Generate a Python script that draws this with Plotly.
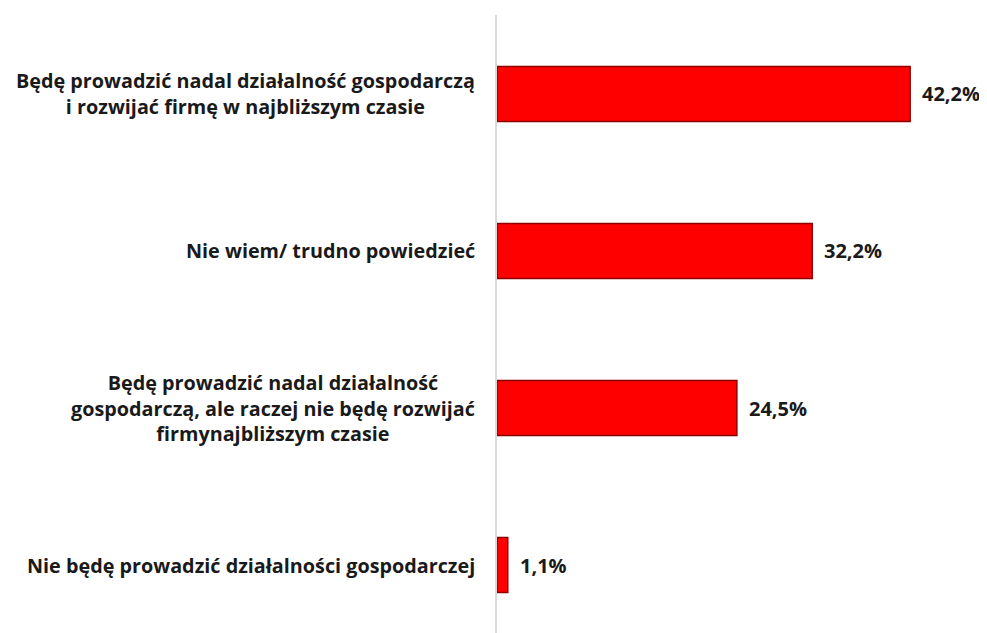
import plotly.graph_objects as go

categories = [
    "Będę prowadzić nadal działalność gospodarczą<br>i rozwijać firmę w najbliższym czasie",
    "Nie wiem/ trudno powiedzieć",
    "Będę prowadzić nadal działalność<br>gospodarczą, ale raczej nie będę rozwijać<br>firmynajbliższym czasie",
    "Nie będę prowadzić działalności gospodarczej",
]
values = [42.2, 32.2, 24.5, 1.1]
value_labels = ["42,2%", "32,2%", "24,5%", "1,1%"]

FONT = "Open Sans"
TXT = "#1a1a1a"

fig = go.Figure()
fig.add_trace(go.Bar(
    x=values,
    y=list(range(len(categories))),
    orientation="h",
    width=0.35,
    marker=dict(color="#FF0000", line=dict(color="#8E0000", width=1.5)),
    hoverinfo="skip",
))

annotations = []
for i, (cat, v, lab) in enumerate(zip(categories, values, value_labels)):
    annotations.append(dict(
        xref="paper", x=0, yref="y", y=i, text=cat, showarrow=False,
        xanchor="right", yanchor="middle", align="center", xshift=-20,
        font=dict(family=FONT, size=19.8, color=TXT, weight="bold"),
    ))
    annotations.append(dict(
        xref="x", x=v, yref="y", y=i, text=lab, showarrow=False,
        xanchor="left", yanchor="middle", xshift=10,
        font=dict(family=FONT, size=20, color=TXT, weight="bold"),
    ))

fig.update_layout(
    width=979, height=625,
    margin=dict(l=489, r=0, t=7, b=0, pad=0),
    paper_bgcolor="white", plot_bgcolor="white",
    showlegend=False,
    annotations=annotations,
    xaxis=dict(range=[0, 50.05], visible=False, fixedrange=True),
    yaxis=dict(range=[3.433, -0.503], showticklabels=False, showgrid=False,
               zeroline=False, showline=True, linecolor="#D9D9D9", linewidth=2,
               ticks="", fixedrange=True),
)

fig.write_html("out.html")
